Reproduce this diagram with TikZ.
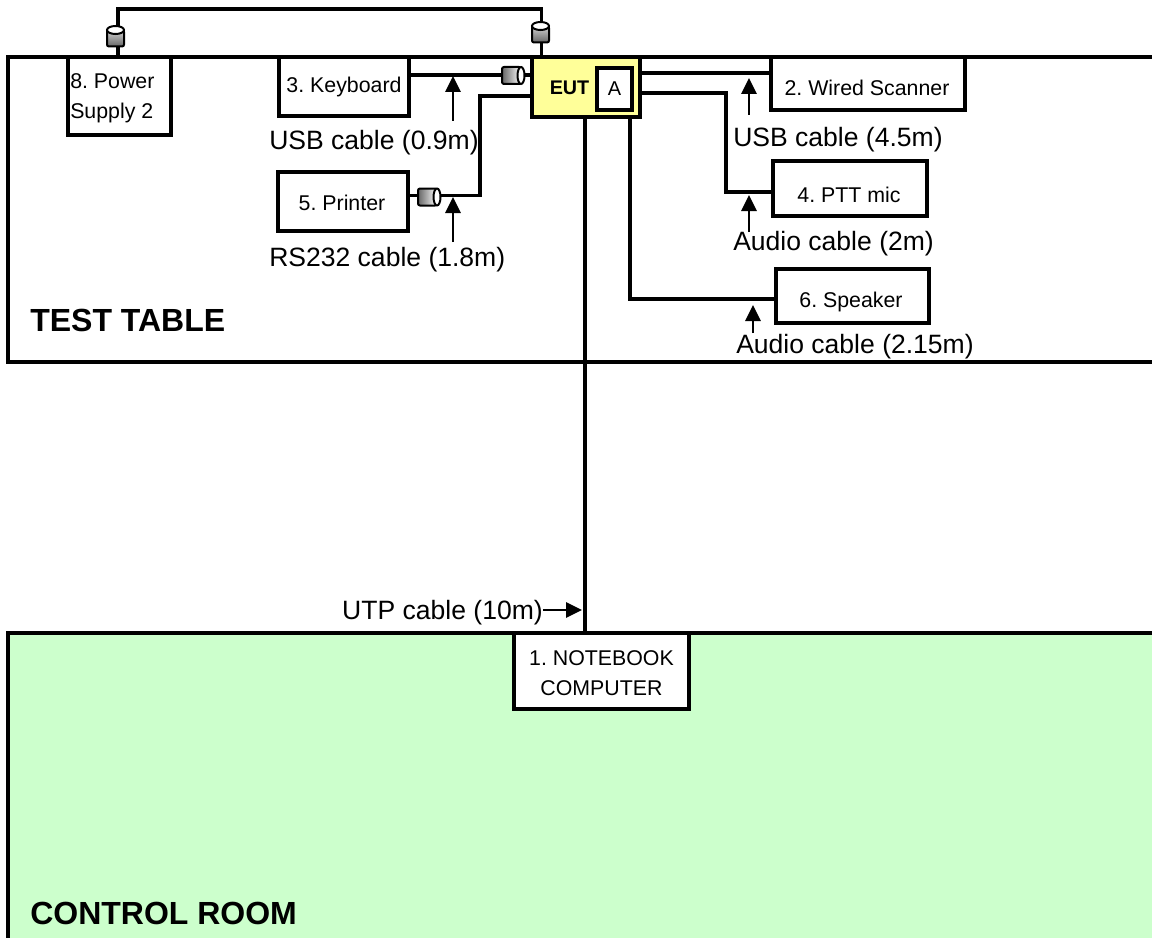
\documentclass[tikz,border=0pt]{standalone}
\usepackage{fontspec}
\setmainfont{Liberation Sans}
\frenchspacing
\definecolor{roomgreen}{HTML}{CCFFCC}
\definecolor{eutyellow}{HTML}{FFFF99}
\usetikzlibrary{arrows.meta}
\tikzset{
  x=0.75pt,y=-0.75pt,
  frame/.style={line width=3pt,draw=black},
  unit/.style={draw=black,line width=3pt,fill=white,inner sep=0pt,text=black},
  cable/.style={line width=2.7pt,draw=black,line join=miter},
  pointer/.style={line width=1.5pt,draw=black,-{Triangle[length=12pt,width=11.5pt]}},
  unittext/.style={inner sep=0pt,font=\fontsize{16pt}{18pt}\selectfont},
  cabletext/.style={inner sep=0pt,font=\fontsize{19.9pt}{22pt}\selectfont},
  roomtext/.style={inner sep=0pt,font=\bfseries\fontsize{24pt}{26pt}\selectfont},
  eutbox/.style={unit,fill=eutyellow},
}
% vertical ferrite core centred on a coordinate
\newcommand{\vcore}[1]{%
  \begin{scope}[shift={(#1)}]
    \draw[line width=1.5pt,top color=gray!35,bottom color=black!60,rounded corners=1.5pt]
      (-8.5,-7) -- (-8.5,9.5) -- (8.5,9.5) -- (8.5,-7) -- cycle;
    \draw[line width=1.5pt,fill=white] (0,-7) ellipse [x radius=8.5,y radius=4];
  \end{scope}}
% horizontal ferrite core centred on a coordinate
\newcommand{\hcore}[1]{%
  \begin{scope}[shift={(#1)}]
    \draw[line width=1.5pt,left color=black!60,right color=white,rounded corners=1.5pt]
      (-11,-8.5) -- (8,-8.5) -- (8,8.5) -- (-11,8.5) -- cycle;
    \draw[line width=1.5pt,fill=white] (8,0) ellipse [x radius=3.5,y radius=8.5];
  \end{scope}}
\begin{document}
\begin{tikzpicture}
\clip (0,0) rectangle (1152,938);
\fill[white] (0,0) rectangle (1152,938);

% rooms
\draw[frame] (1170,57) -- (8,57) -- (8,362) -- (1170,362);
\draw[frame,fill=roomgreen] (1170,633) -- (8,633) -- (8,960) -- (1170,960);

% units
\node[unit,minimum width=77.25pt,minimum height=58.5pt] (ps) at (119.5,96) {};
\node[unit,minimum width=97.5pt,minimum height=44.25pt] (kb) at (344,86.5) {};
\node[unit,minimum width=97.5pt,minimum height=44.25pt] (pr) at (343,201.5) {};
\node[eutbox,minimum width=81pt,minimum height=45pt] (eut) at (586,87) {};
\node[unit,minimum width=145.5pt,minimum height=39.75pt] (ws) at (868,83.5) {};
\node[unit,minimum width=115.5pt,minimum height=40.5pt] (ptt) at (850,188.5) {};
\node[unit,minimum width=114.75pt,minimum height=40.5pt] (spk) at (852,296) {};
\node[unit,minimum width=131.25pt,minimum height=57pt] (nb) at (601.5,671) {};
\node[unit,minimum width=26.25pt,minimum height=31.5pt,font=\fontsize{15pt}{18pt}\selectfont] (a) at (614.5,89) {A};

% cables
\coordinate (cpsa) at (118,9);
\coordinate (cpsb) at (541.5,9);
\draw[cable] (ps.north-|cpsa) -- (cpsa) -- (cpsb) -- (eut.north-|cpsb);
\draw[cable] (kb.east|-0,75) -- (eut.west|-0,75);
\coordinate (cpra) at (480,195.5);
\coordinate (cprb) at (480,96);
\draw[cable] (pr.east|-cpra) -- (cpra) -- (cprb) -- (eut.west|-cprb);
\draw[cable] (eut.east|-0,73) -- (ws.west|-0,73);
\coordinate (cmica) at (726,93);
\coordinate (cmicb) at (726,192);
\draw[cable] (eut.east|-cmica) -- (cmica) -- (cmicb) -- (ptt.west|-cmicb);
\coordinate (cspk) at (630,299);
\draw[cable] (eut.south-|cspk) -- (cspk) -- (spk.west|-cspk);
\draw[cable] (eut.south-|585,0) -- (nb.north-|585,0);

% ferrite cores
\coordinate (fa) at (115.5,37);
\coordinate (fb) at (540.5,33);
\coordinate (fc) at (513,75.5);
\coordinate (fd) at (429,197);
\vcore{fa}
\vcore{fb}
\hcore{fc}
\hcore{fd}

% unit captions
\node[unittext,anchor=west] (t8a) at (70,81) {8. Power};
\node[unittext,anchor=west] (t8b) at (70,113) {Supply 2};
\node[unittext] (t3) at (344,87) {3. Keyboard};
\node[unittext] (t5) at (342,203) {5. Printer};
\node[unittext,font=\bfseries\fontsize{14.8pt}{17pt}\selectfont] (teut) at (569.5,88) {EUT};
\node[unittext] (t2) at (867,88) {2. Wired Scanner};
\node[unittext] (t4) at (849,195) {4. PTT mic};
\node[unittext] (t6) at (851,302) {6. Speaker};
\node[unittext] (t1a) at (601.5,658) {1. NOTEBOOK};
\node[unittext] (t1b) at (601.5,688) {COMPUTER};

% cable labels
\node[cabletext,anchor=west] (lusba) at (269,143) {USB cable (0.9m)};
\node[cabletext,anchor=west] (lrs) at (269,260) {RS232 cable (1.8m)};
\node[cabletext,anchor=west] (lusbb) at (733,140) {USB cable (4.5m)};
\node[cabletext,anchor=west] (laudb) at (733,244) {Audio cable (2m)};
\node[cabletext,anchor=west] (lauds) at (736,347) {Audio cable (2.15m)};
\node[cabletext,anchor=east] (lutp) at (543,613) {UTP cable (10m)};

% pointers
\draw[pointer] (453,121) -- (453,76);
\draw[pointer] (453,242) -- (453,197);
\draw[pointer] (749,115) -- (749,78);
\draw[pointer] (749,232) -- (749,195);
\draw[pointer] (753,333) -- (753,305);
\coordinate (putp) at (582,610);
\draw[pointer] (lutp.east|-putp) -- (putp);

% room titles
\node[roomtext,anchor=west] (ttable) at (30,320) {TEST TABLE};
\node[roomtext,anchor=west] (croom) at (30,913) {CONTROL ROOM};
\end{tikzpicture}
\end{document}
